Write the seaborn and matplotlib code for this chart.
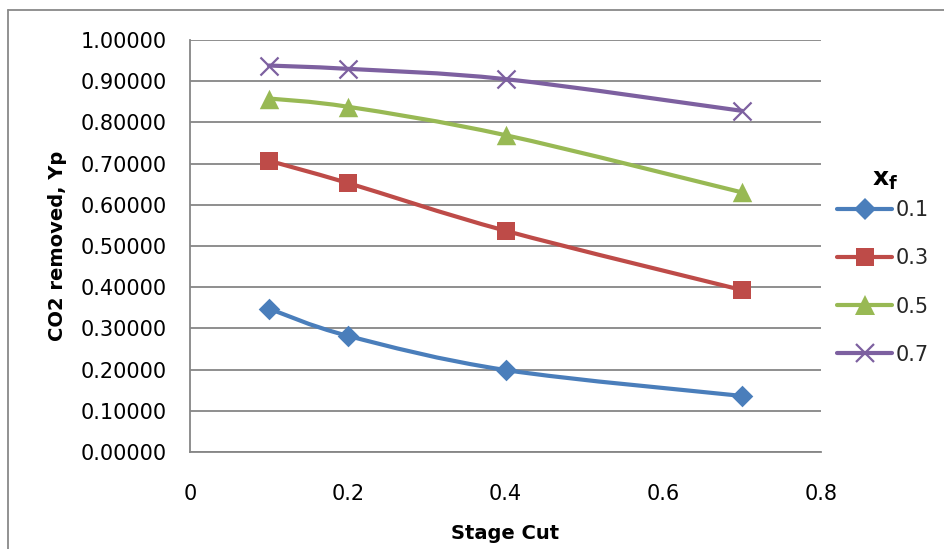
import numpy as np
import pandas as pd
import matplotlib
matplotlib.use("Agg")
import matplotlib.pyplot as plt
import seaborn as sns
from matplotlib.path import Path
from matplotlib.patches import PathPatch
from matplotlib.lines import Line2D

# ---- data ----
stage_cut = [0.1, 0.2, 0.4, 0.7]
series_names = ["0.1", "0.3", "0.5", "0.7"]
y_xf01 = [0.348, 0.282, 0.199, 0.136]
y_xf03 = [0.707, 0.653, 0.537, 0.393]
y_xf05 = [0.858, 0.838, 0.769, 0.630]
y_xf07 = [0.938, 0.930, 0.905, 0.828]
x_ticks = [0, 0.2, 0.4, 0.6, 0.8]
x_tick_labels = ["0", "0.2", "0.4", "0.6", "0.8"]
y_ticks = [0.0, 0.1, 0.2, 0.3, 0.4, 0.5, 0.6, 0.7, 0.8, 0.9, 1.0]
y_tick_labels = ["%.5f" % v for v in y_ticks]

values = [y_xf01, y_xf03, y_xf05, y_xf07]
df = pd.DataFrame({
    "Stage Cut": np.tile(stage_cut, 4),
    "Yp": np.concatenate(values),
    "xf": np.repeat(series_names, len(stage_cut)),
})

colors = ["#4A7EBB", "#BE4B48", "#98B954", "#7D60A0"]
markers = ["D", "s", "^", "x"]
msizes = [11, 13, 14, 13]

sns.set_theme(style="white")
plt.rcParams["font.family"] = ["DejaVu Sans"]

W, H = 945, 549
fig = plt.figure(figsize=(W / 100, H / 100), dpi=100)
ax = fig.add_axes([190 / W, 1 - 452 / H, (821 - 190) / W, (452 - 40) / H])

def smooth_path(xs, ys):
    pts = np.column_stack([xs, ys])
    n = len(pts)
    verts = [pts[0]]
    codes = [Path.MOVETO]
    for i in range(n - 1):
        p0 = pts[i - 1] if i > 0 else pts[i]
        p1 = pts[i]
        p2 = pts[i + 1]
        p3 = pts[i + 2] if i + 2 < n else pts[i + 1]
        c1 = p1 + (p2 - p0) / 6.0
        c2 = p2 - (p3 - p1) / 6.0
        verts += [c1, c2, p2]
        codes += [Path.CURVE4] * 3
    return Path(verts, codes)

for name, col, mk, ms in zip(series_names, colors, markers, msizes):
    sub = df[df["xf"] == name]
    patch = PathPatch(smooth_path(sub["Stage Cut"].values, sub["Yp"].values),
                      facecolor="none", edgecolor=col, lw=3.0, zorder=3,
                      capstyle="round", joinstyle="round")
    ax.add_patch(patch)
    if mk == "x":
        sns.scatterplot(data=sub, x="Stage Cut", y="Yp", marker=mk, s=ms ** 2,
                        color=col, linewidth=1.6, ax=ax, zorder=4, legend=False)
    else:
        sns.scatterplot(data=sub, x="Stage Cut", y="Yp", marker=mk, s=ms ** 2,
                        color=col, edgecolor=col, linewidth=0, ax=ax, zorder=4,
                        legend=False)

ax.set_xlim(0, 0.8)
ax.set_ylim(0, 1.0)
ax.set_xticks(x_ticks)
ax.set_xticklabels(x_tick_labels)
ax.set_yticks(y_ticks)
ax.set_yticklabels(y_tick_labels)

grid_col = "#868686"
ax.yaxis.grid(True, color=grid_col, lw=1.3)
ax.xaxis.grid(False)
ax.set_axisbelow(True)
for s in ["top", "right"]:
    ax.spines[s].set_visible(False)
for s in ["left", "bottom"]:
    ax.spines[s].set_color(grid_col)
    ax.spines[s].set_linewidth(1.3)
ax.tick_params(axis="both", which="major", direction="out", length=5,
               width=1.3, color=grid_col, labelsize=15, labelcolor="black")
ax.tick_params(axis="y", pad=12)
ax.tick_params(axis="x", pad=18)

ax.set_xlabel("Stage Cut", fontsize=14, fontweight="bold", color="black")
ax.set_ylabel("CO2 removed, Yp", fontsize=14, fontweight="bold", color="black")
ax.xaxis.set_label_coords((505 - 190) / (821 - 190), -(524 - 452) / (452 - 40))
ax.yaxis.set_label_coords(-(190 - 67) / (821 - 190), 0.5)

handles = [Line2D([0], [0], color=c, lw=3.0, marker=m, markersize=ms,
                  markeredgewidth=(1.6 if m == "x" else 0), markeredgecolor=c,
                  markerfacecolor=c)
           for c, m, ms in zip(colors, markers, msizes)]
leg = fig.legend(handles, series_names,
                 loc="center left", bbox_to_anchor=(837 / W, 1 - 282.5 / H),
                 frameon=False, fontsize=15,
                 handlelength=2.65, handletextpad=0.15, labelspacing=1.35,
                 borderaxespad=0, borderpad=0)
fig.text(885 / W, 1 - 180 / H, r"$\mathbf{x_f}$", fontsize=18,
         ha="center", va="center", color="black")

# outer chart border
fig.add_artist(Line2D([8 / W, 8 / W], [0, 1 - 10 / H], transform=fig.transFigure,
                      color="#898989", lw=1.3))
fig.add_artist(Line2D([8 / W, 1], [1 - 10 / H, 1 - 10 / H], transform=fig.transFigure,
                      color="#898989", lw=1.3))

fig.savefig("out.png", dpi=100, facecolor="white")
